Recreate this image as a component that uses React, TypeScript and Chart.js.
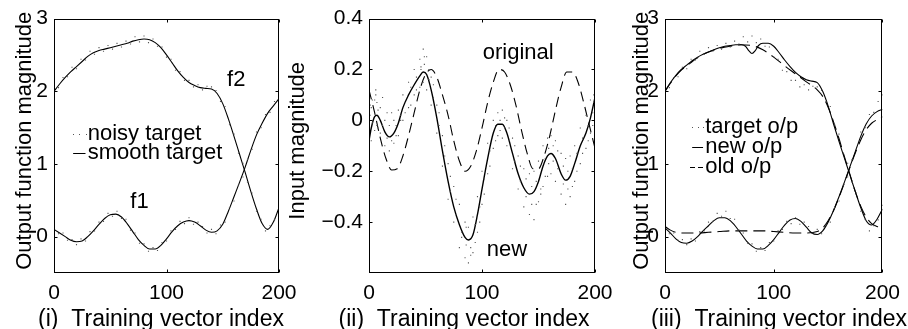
import React, { useEffect, useRef } from "react";
import { Chart, registerables } from "chart.js";

Chart.register(...registerables);

const FONT = '"Liberation Sans", Arial, Helvetica, sans-serif';

// ---------- tick labels ----------
const X_TICKS = [0, 100, 200];
const Y_TICKS_OUT = [0, 1, 2, 3];
const Y_TICKS_IN = [-0.4, -0.2, 0, 0.2, 0.4];

// ---------- panel (i) and (iii): targets ----------
const X_SMOOTH = [0, 5, 10, 15, 20, 25, 30, 35, 40, 45, 50, 55, 60, 65, 70, 75, 80, 85, 90, 95, 100, 105, 110, 115, 120, 125, 130, 135, 140, 145, 150, 155, 160, 165, 170, 175, 180, 185, 190, 195, 200];
const F1_SMOOTH = [0.10, 0.05, 0.0, -0.05, -0.07, -0.06, 0.0, 0.08, 0.17, 0.25, 0.30, 0.31, 0.27, 0.18, 0.07, -0.04, -0.12, -0.17, -0.17, -0.12, -0.03, 0.07, 0.15, 0.20, 0.22, 0.20, 0.15, 0.09, 0.06, 0.08, 0.17, 0.35, 0.55, 0.75, 0.96, 1.19, 1.40, 1.56, 1.70, 1.80, 1.90];
const F2_SMOOTH = [2.00, 2.10, 2.19, 2.27, 2.34, 2.41, 2.48, 2.53, 2.56, 2.58, 2.60, 2.62, 2.64, 2.66, 2.69, 2.71, 2.72, 2.71, 2.67, 2.60, 2.50, 2.39, 2.28, 2.19, 2.12, 2.08, 2.05, 2.04, 2.03, 1.97, 1.83, 1.62, 1.38, 1.13, 0.88, 0.62, 0.38, 0.18, 0.10, 0.20, 0.40];

const X_NOISY = [0, 4, 8, 12, 16, 20, 24, 28, 32, 36, 40, 44, 48, 52, 56, 60, 64, 68, 72, 76, 80, 84, 88, 92, 96, 100, 104, 108, 112, 116, 120, 124, 128, 132, 136, 140, 144, 148, 152, 156, 160, 164, 168, 172, 176, 180, 184, 188, 192, 196, 200];
const F1_NOISY = [0.12, 0.04, 0.05, -0.05, -0.04, -0.11, -0.03, -0.06, 0.07, 0.08, 0.20, 0.21, 0.32, 0.28, 0.35, 0.25, 0.24, 0.09, 0.05, -0.09, -0.10, -0.20, -0.15, -0.19, -0.08, -0.06, 0.08, 0.10, 0.21, 0.18, 0.26, 0.17, 0.20, 0.14, 0.05, 0.10, 0.04, 0.16, 0.20, 0.40, 0.49, 0.71, 0.82, 1.06, 1.20, 1.44, 1.50, 1.68, 1.71, 1.86, 1.95];
const F2_NOISY = [2.04, 2.05, 2.19, 2.20, 2.33, 2.31, 2.44, 2.43, 2.55, 2.51, 2.60, 2.55, 2.63, 2.58, 2.66, 2.61, 2.69, 2.65, 2.75, 2.68, 2.76, 2.67, 2.72, 2.62, 2.61, 2.47, 2.44, 2.29, 2.27, 2.15, 2.15, 2.06, 2.09, 2.02, 2.07, 2.06, 2.01, 1.86, 1.79, 1.54, 1.41, 1.15, 1.01, 0.75, 0.60, 0.35, 0.24, 0.08, 0.15, 0.23, 0.43];

// ---------- panel (ii): inputs ----------
const ORIGINAL_INPUT = [0.12, 0.03, -0.07, -0.15, -0.195, -0.19, -0.14, -0.06, 0.03, 0.12, 0.18, 0.20, 0.17, 0.10, 0.02, -0.08, -0.16, -0.20, -0.18, -0.12, -0.03, 0.07, 0.15, 0.20, 0.19, 0.14, 0.06, -0.04, -0.13, -0.19, -0.19, -0.14, -0.06, 0.04, 0.13, 0.19, 0.19, 0.15, 0.07, -0.02, -0.11];
const X_NEW = [0, 2, 5, 7, 10, 14, 18, 22, 26, 30, 35, 40, 45, 48, 51, 55, 60, 65, 70, 75, 80, 85, 88, 92, 96, 100, 105, 110, 114, 118, 122, 127, 132, 137, 142, 146, 150, 154, 158, 161, 165, 170, 174, 178, 182, 187, 192, 196, 200];
const NEW_INPUT = [-0.08, -0.03, 0.015, 0.02, 0.0, -0.045, -0.065, -0.05, -0.01, 0.05, 0.10, 0.14, 0.175, 0.19, 0.18, 0.12, 0.01, -0.12, -0.24, -0.34, -0.41, -0.46, -0.47, -0.45, -0.37, -0.27, -0.15, -0.05, -0.015, -0.015, -0.05, -0.13, -0.21, -0.265, -0.29, -0.28, -0.24, -0.18, -0.14, -0.13, -0.15, -0.21, -0.235, -0.22, -0.17, -0.10, -0.05, 0.01, 0.09];
const NEW_NOISY_A = [0.10, 0.05, 0.08, 0.07, 0.05, 0.0, -0.02, -0.09, 0.04, 0.10, 0.15, 0.20, 0.24, 0.28, 0.25, 0.17, 0.06, -0.06, -0.17, -0.26, -0.33, -0.40, -0.42, -0.38, -0.30, -0.20, -0.09, 0.0, 0.03, 0.04, 0.0, -0.07, -0.14, -0.19, -0.21, -0.20, -0.16, -0.10, -0.07, -0.06, -0.08, -0.13, -0.15, -0.14, -0.10, -0.03, 0.02, 0.08, 0.12];
const NEW_NOISY_B = [-0.12, -0.08, -0.04, -0.02, -0.05, -0.10, -0.12, 0.0, -0.06, 0.0, 0.05, 0.10, 0.13, 0.15, 0.12, 0.06, -0.05, -0.18, -0.31, -0.40, -0.50, -0.54, -0.56, -0.52, -0.44, -0.33, -0.21, -0.11, -0.06, -0.07, -0.10, -0.19, -0.27, -0.34, -0.37, -0.39, -0.32, -0.26, -0.22, -0.21, -0.24, -0.29, -0.33, -0.30, -0.24, -0.17, -0.11, -0.05, 0.04];
const X_NOISE2 = [1, 3, 6, 8, 12, 16, 20, 24, 28, 32, 37, 42, 46, 49, 53, 57, 62, 67, 72, 77, 82, 86, 90, 94, 98, 102, 107, 112, 116, 120, 124, 129, 134, 139, 144, 148, 152, 156, 159, 163, 167, 172, 176, 180, 184, 189, 194, 198, 199];
const NEW_NOISY_C = [0.02, 0.08, 0.12, -0.03, 0.09, -0.07, 0.03, -0.02, 0.0, 0.07, 0.06, 0.17, 0.21, 0.22, 0.20, 0.09, 0.03, -0.10, -0.22, -0.37, -0.44, -0.49, -0.50, -0.41, -0.34, -0.29, -0.12, -0.08, 0.0, -0.03, -0.03, -0.16, -0.18, -0.30, -0.26, -0.33, -0.27, -0.15, -0.17, -0.10, -0.19, -0.18, -0.27, -0.19, -0.20, -0.07, -0.08, 0.03, 0.07];
const NEW_NOISY_D = [0.06, -0.01, 0.10, 0.04, -0.02, 0.03, -0.08, -0.06, 0.02, 0.03, 0.13, 0.12, 0.20, 0.25, 0.16, 0.14, -0.02, -0.14, -0.28, -0.31, -0.46, -0.42, -0.53, -0.48, -0.40, -0.23, -0.18, -0.02, -0.04, 0.01, -0.08, -0.10, -0.24, -0.23, -0.33, -0.24, -0.29, -0.22, -0.11, -0.16, -0.12, -0.25, -0.20, -0.26, -0.13, -0.13, -0.02, -0.02, 0.10];

// ---------- panel (iii): outputs ----------
const NEW_OP1 = [0.12, 0.05, -0.03, -0.08, -0.09, -0.06, 0.0, 0.08, 0.15, 0.22, 0.26, 0.26, 0.22, 0.14, 0.04, -0.06, -0.13, -0.17, -0.17, -0.12, -0.04, 0.06, 0.16, 0.23, 0.25, 0.21, 0.13, 0.05, 0.03, 0.08, 0.20, 0.36, 0.55, 0.75, 0.96, 1.17, 1.38, 1.55, 1.66, 1.72, 1.75];
const X_NEW_OP2 = [0, 5, 10, 15, 20, 25, 30, 35, 40, 45, 50, 55, 60, 65, 70, 74, 77, 80, 83, 86, 90, 95, 100, 105, 110, 115, 120, 125, 130, 135, 140, 145, 150, 155, 160, 165, 170, 175, 180, 185, 190, 195, 200];
const NEW_OP2 = [2.00, 2.12, 2.22, 2.30, 2.36, 2.42, 2.47, 2.51, 2.54, 2.57, 2.60, 2.62, 2.63, 2.64, 2.64, 2.62, 2.56, 2.52, 2.56, 2.63, 2.66, 2.66, 2.62, 2.53, 2.43, 2.34, 2.26, 2.20, 2.16, 2.14, 2.12, 2.00, 1.80, 1.55, 1.31, 1.08, 0.85, 0.62, 0.40, 0.22, 0.16, 0.24, 0.38];
const X_OLD = [0, 5, 10, 15, 20, 30, 40, 50, 60, 70, 80, 90, 100, 110, 120, 130, 140, 145, 150, 155, 160, 165, 170, 175, 180, 185, 190, 195, 200];
const OLD_OP1 = [0.14, 0.09, 0.06, 0.05, 0.05, 0.05, 0.06, 0.07, 0.08, 0.08, 0.08, 0.08, 0.07, 0.06, 0.05, 0.05, 0.07, 0.12, 0.22, 0.36, 0.54, 0.74, 0.95, 1.15, 1.33, 1.47, 1.56, 1.61, 1.65];
const OLD_OP2 = [2.0, 2.11, 2.21, 2.29, 2.35, 2.46, 2.54, 2.59, 2.62, 2.64, 2.63, 2.57, 2.47, 2.35, 2.24, 2.13, 2.02, 1.93, 1.78, 1.58, 1.35, 1.10, 0.86, 0.62, 0.42, 0.27, 0.18, 0.14, 0.12];

function pts(xs: number[], ys: number[]) {
  return xs.map((x, i) => ({ x, y: ys[i] }));
}

function fmt(v: number) {
  if (Math.abs(v) < 1e-9) return "0";
  const s = Number.isInteger(v) ? String(Math.abs(v)) : Math.abs(v).toFixed(1);
  return v < 0 ? "\u2212" + s : s;
}

const framePlugin = {
  id: "frame",
  afterDraw(chart: any, _args: any, opts: any) {
    const { ctx, chartArea: a, scales } = chart;
    const xs = scales.x;
    const ys = scales.y;
    ctx.save();
    ctx.strokeStyle = "#000";
    ctx.lineWidth = 1;
    const L = Math.round(a.left) + 0.5;
    const R = Math.round(a.right) - 0.5;
    const T = Math.round(a.top) + 0.5;
    const B = Math.round(a.bottom) - 0.5;
    ctx.strokeRect(L, T, R - L, B - T);
    const tl = 3;
    ctx.beginPath();
    xs.ticks.forEach((t: any) => {
      const px = Math.round(xs.getPixelForValue(t.value)) + 0.5;
      ctx.moveTo(px, B);
      ctx.lineTo(px, B - tl);
      ctx.moveTo(px, T);
      ctx.lineTo(px, T + tl);
    });
    ys.ticks.forEach((t: any) => {
      const py = Math.round(ys.getPixelForValue(t.value)) + 0.5;
      ctx.moveTo(L, py);
      ctx.lineTo(L + tl, py);
      ctx.moveTo(R, py);
      ctx.lineTo(R - tl, py);
    });
    ctx.stroke();

    ctx.fillStyle = "#000";
    ctx.textBaseline = "middle";

    // axis titles
    ctx.font = `23px ${FONT}`;
    ctx.textAlign = "center";
    ctx.fillText(opts.xTitle, opts.xTitleX, opts.xTitleY);
    ctx.font = `22px ${FONT}`;
    ctx.save();
    ctx.translate(opts.yTitleX, (a.top + a.bottom) / 2 - 5);
    ctx.rotate(-Math.PI / 2);
    ctx.fillText(opts.yTitle, 0, 0);
    ctx.restore();

    (opts.texts || []).forEach((t: any) => {
      ctx.textAlign = t.align || "center";
      ctx.fillText(t.text, xs.getPixelForValue(t.x), ys.getPixelForValue(t.y));
    });
    (opts.legend || []).forEach((it: any) => {
      const p0 = xs.getPixelForValue(it.x0);
      const p1 = xs.getPixelForValue(it.x1);
      const py = Math.round(ys.getPixelForValue(it.y));
      if (it.kind === "dots") {
        ctx.fillStyle = "#555";
        for (let p = p0; p <= p1 + 0.1; p += (p1 - p0) / 2) {
          ctx.fillRect(Math.round(p), py, 1, 1);
        }
      } else {
        ctx.beginPath();
        ctx.setLineDash(it.kind === "dash" ? [5, 3] : []);
        ctx.moveTo(p0, py + 0.5);
        ctx.lineTo(p1, py + 0.5);
        ctx.stroke();
        ctx.setLineDash([]);
      }
      ctx.fillStyle = "#000";
      ctx.textAlign = "left";
      ctx.fillText(it.text, xs.getPixelForValue(it.tx), ys.getPixelForValue(it.y));
    });
    ctx.restore();
  },
};

function lineDs(data: any[], dash: number[] = [], width = 1.1) {
  return {
    data,
    showLine: true,
    borderColor: "#000",
    borderWidth: width,
    borderDash: dash,
    pointRadius: 0,
    cubicInterpolationMode: "monotone",
    fill: false,
  };
}

function dotDs(data: any[]) {
  return {
    data,
    showLine: false,
    pointStyle: "rect",
    pointRadius: 0.8,
    pointBackgroundColor: "#555",
    pointBorderWidth: 0,
    backgroundColor: "#555",
  };
}

function makeConfig(p: {
  datasets: any[];
  padL: number;
  padR: number;
  yWidth: number;
  yMin: number;
  yMax: number;
  yTicks: number[];
  yTitle: string;
  yTitleX: number;
  xTitle: string;
  xTitleX: number;
  texts?: any[];
  legend?: any[];
}) {
  return {
    type: "scatter",
    data: { datasets: p.datasets },
    plugins: [framePlugin],
    options: {
      animation: false,
      responsive: false,
      maintainAspectRatio: false,
      devicePixelRatio: 1,
      events: [],
      layout: { padding: { left: p.padL, right: p.padR, top: 14, bottom: 0 } },
      plugins: {
        legend: { display: false },
        tooltip: { enabled: false },
        frame: {
          texts: p.texts || [],
          legend: p.legend || [],
          xTitle: p.xTitle,
          xTitleX: p.xTitleX,
          xTitleY: 320,
          yTitle: p.yTitle,
          yTitleX: p.yTitleX,
        },
      },
      scales: {
        x: {
          type: "linear",
          min: 0,
          max: 200,
          afterBuildTicks: (s: any) => {
            s.ticks = X_TICKS.map((v) => ({ value: v }));
          },
          afterFit: (s: any) => {
            s.height = 56;
          },
          grid: { display: false, drawTicks: false },
          border: { display: false },
          ticks: {
            autoSkip: false,
            maxRotation: 0,
            padding: 8,
            color: "#000",
            font: { family: FONT, size: 21 },
            callback: (v: number) => fmt(v),
          },
        },
        y: {
          type: "linear",
          min: p.yMin,
          max: p.yMax,
          afterBuildTicks: (s: any) => {
            s.ticks = p.yTicks.map((v) => ({ value: v }));
          },
          afterFit: (s: any) => {
            s.width = p.yWidth;
          },
          grid: { display: false, drawTicks: false },
          border: { display: false },
          ticks: {
            autoSkip: false,
            padding: 6,
            color: "#000",
            font: { family: FONT, size: 21 },
            callback: (v: number) => fmt(v),
          },
        },
      },
    },
  };
}

export default function App() {
  const r1 = useRef<HTMLCanvasElement>(null);
  const r2 = useRef<HTMLCanvasElement>(null);
  const r3 = useRef<HTMLCanvasElement>(null);

  useEffect(() => {
    const c1 = makeConfig({
      datasets: [
        dotDs(pts(X_NOISY, F1_NOISY)),
        dotDs(pts(X_NOISY, F2_NOISY)),
        lineDs(pts(X_SMOOTH, F1_SMOOTH)),
        lineDs(pts(X_SMOOTH, F2_SMOOTH)),
      ],
      padL: 0,
      padR: 629,
      yWidth: 54,
      yMin: -0.5,
      yMax: 3,
      yTicks: Y_TICKS_OUT,
      yTitle: "Output function magnitude",
      yTitleX: 25,
      xTitle: "(i)  Training vector index",
      xTitleX: 161,
      texts: [
        { text: "f2", x: 162, y: 2.16 },
        { text: "f1", x: 76, y: 0.48 },
      ],
      legend: [
        { kind: "dots", text: "noisy target", x0: 17, x1: 28, tx: 30, y: 1.41 },
        { kind: "line", text: "smooth target", x0: 17, x1: 28, tx: 30, y: 1.15 },
      ],
    });
    const c2 = makeConfig({
      datasets: [
        dotDs(pts(X_NEW, NEW_NOISY_A)),
        dotDs(pts(X_NEW, NEW_NOISY_B)),
        dotDs(pts(X_NOISE2, NEW_NOISY_C)),
        dotDs(pts(X_NOISE2, NEW_NOISY_D)),
        lineDs(pts(X_SMOOTH, ORIGINAL_INPUT), [10, 6]),
        lineDs(pts(X_NEW, NEW_INPUT), [], 1.4),
      ],
      padL: 280,
      padR: 313,
      yWidth: 89,
      yMin: -0.6,
      yMax: 0.4,
      yTicks: Y_TICKS_IN,
      yTitle: "Input magnitude",
      yTitleX: 298,
      xTitle: "(ii)  Training vector index",
      xTitleX: 464,
      texts: [
        { text: "original", x: 132, y: 0.265 },
        { text: "new", x: 122, y: -0.509 },
      ],
    });
    const c3 = makeConfig({
      datasets: [
        dotDs(pts(X_NOISY, F1_NOISY)),
        dotDs(pts(X_NOISY, F2_NOISY)),
        lineDs(pts(X_SMOOTH, NEW_OP1)),
        lineDs(pts(X_NEW_OP2, NEW_OP2)),
        lineDs(pts(X_OLD, OLD_OP1), [12, 6]),
        lineDs(pts(X_OLD, OLD_OP2), [12, 6]),
      ],
      padL: 620,
      padR: 16,
      yWidth: 45,
      yMin: -0.5,
      yMax: 3,
      yTicks: Y_TICKS_OUT,
      yTitle: "Output function magnitude",
      yTitleX: 642,
      xTitle: "(iii)  Training vector index",
      xTitleX: 779,
      legend: [
        { kind: "dots", text: "target o/p", x0: 25, x1: 35, tx: 37, y: 1.51 },
        { kind: "line", text: "new o/p", x0: 25, x1: 35, tx: 37, y: 1.23 },
        { kind: "dash", text: "old o/p", x0: 23, x1: 36, tx: 37, y: 0.96 },
      ],
    });
    const charts = [
      new Chart(r1.current as HTMLCanvasElement, c1 as any),
      new Chart(r2.current as HTMLCanvasElement, c2 as any),
      new Chart(r3.current as HTMLCanvasElement, c3 as any),
    ];
    return () => charts.forEach((c) => c.destroy());
  }, []);

  const cs: React.CSSProperties = { position: "absolute", left: 0, top: 0, width: 908, height: 329 };
  return (
    <div style={{ position: "absolute", left: 0, top: 0, width: 908, height: 329, background: "#fff" }}>
      <canvas ref={r1} width={908} height={329} style={cs} />
      <canvas ref={r2} width={908} height={329} style={cs} />
      <canvas ref={r3} width={908} height={329} style={cs} />
    </div>
  );
}
